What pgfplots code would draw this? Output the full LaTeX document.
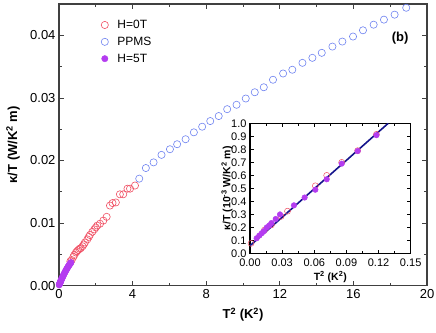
\documentclass[border=0pt]{standalone}
\usepackage{fontspec}
\setmainfont{Liberation Sans}
\usepackage{pgfplots}
\pgfplotsset{compat=1.18}
\definecolor{hzero}{RGB}{240,80,100}
\definecolor{ppms}{RGB}{110,130,240}
\definecolor{hfive}{RGB}{180,60,240}
\definecolor{fitline}{RGB}{20,20,140}
\begin{document}
\begin{tikzpicture}
\begin{axis}[
    name=main,
    scale only axis,
    width=368pt, height=281.7pt,
    xmin=0, xmax=20, ymin=0, ymax=0.045,
    xtick={0,4,8,12,16,20},
    ytick={0,0.01,0.02,0.03,0.04},
    minor x tick num=1, minor y tick num=1,
    scaled y ticks=false,
    tick align=inside,
    major tick length=5pt, minor tick length=3pt,
    axis line style={draw=black!75, line width=1.1pt},
    every tick/.style={black!75, line width=0.8pt},
    ticklabel style={font=\fontsize{13}{15}\selectfont},
    /pgf/number format/assume math mode=true,
    yticklabel style={/pgf/number format/fixed, /pgf/number format/fixed zerofill, /pgf/number format/precision=2},
    xlabel={\bfseries T\textsuperscript{2} (K\textsuperscript{2})},
    ylabel={\bfseries κ/T (W/K\textsuperscript{2} m)},
    label style={font=\fontsize{13}{15}\selectfont\bfseries},
    xlabel style={at={(axis description cs:0.5,-0.103)}, anchor=center},
    ylabel style={at={(axis description cs:-0.125,0.5)}, anchor=center},
    legend style={draw=none, fill=none, at={(axis description cs:0.106,0.958)}, anchor=north west,
      font=\fontsize{12}{14}\selectfont, row sep=3pt,
      /tikz/every odd column/.append style={column sep=7pt}},
    legend cell align=left,
]
% H=0T
\addplot[only marks, mark=o, mark size=3.6pt, hzero, mark options={line width=0.6pt}] coordinates {
 (0.62,0.0039) (0.69,0.0041) (0.78,0.0046) (0.83,0.0049) (0.92,0.0053) (0.98,0.0055)
 (1.05,0.0057) (1.12,0.0059) (1.18,0.0060) (1.28,0.0063) (1.35,0.0066) (1.41,0.0069)
 (1.54,0.0074) (1.62,0.0078) (1.68,0.0081) (1.81,0.0086) (1.92,0.0090) (2.00,0.0093)
 (2.08,0.0096) (2.23,0.0099) (2.41,0.0104) (2.59,0.0110) (2.77,0.0128) (2.91,0.0132)
 (3.09,0.0133) (3.31,0.0146) (3.49,0.0146) (3.72,0.0155) (3.86,0.0155) (4.13,0.0160)
};
% PPMS
\addplot[only marks, mark=o, mark size=3.6pt, ppms, mark options={line width=0.6pt}] coordinates {
 (4.36,0.0171) (4.72,0.0188) (5.14,0.0197) (5.57,0.0209) (6.03,0.0218) (6.42,0.0226)
 (6.88,0.0234) (7.33,0.0245) (7.78,0.0254) (8.22,0.0263) (8.68,0.0271) (9.14,0.0282)
 (9.65,0.0289) (10.15,0.0299) (10.64,0.0309) (11.13,0.0317) (11.63,0.0329) (12.18,0.0339)
 (12.68,0.0345) (13.23,0.0356) (13.77,0.0364) (14.28,0.0372) (14.86,0.0382) (15.40,0.0390)
 (15.98,0.0398) (16.52,0.0408) (17.10,0.0417) (17.66,0.0425) (18.24,0.0433) (18.87,0.0444)
 (19.45,0.0451)
};
% H=5T
\addplot[only marks, mark=*, mark size=3.2pt, hfive, mark options={draw=hfive, fill=hfive}] coordinates {
 (0.01,0.00013) (0.02,0.0002) (0.03,0.00028) (0.04,0.00035) (0.05,0.00043) (0.06,0.0005)
 (0.07,0.00057) (0.08,0.00064) (0.09,0.00071) (0.10,0.00078) (0.12,0.00091) (0.14,0.00104)
 (0.16,0.00117) (0.18,0.0013) (0.20,0.00142) (0.23,0.0016) (0.26,0.00178) (0.29,0.00196)
 (0.32,0.00213) (0.35,0.0023) (0.38,0.00246) (0.41,0.00262) (0.44,0.00277) (0.47,0.00292)
 (0.50,0.00306) (0.53,0.0032) (0.56,0.00333) (0.59,0.00346) (0.62,0.00358) (0.65,0.0037)
};
\legend{H=0T, PPMS, H=5T}
\node[font=\fontsize{13}{15}\selectfont\bfseries] at (axis description cs:0.927,0.879) {(b)};
\end{axis}
\coordinate (insetpos) at ([xshift=191pt, yshift=32.2pt]main.south west);
\begin{axis}[
    at={(insetpos)}, anchor=south west,
    scale only axis,
    width=160.7pt, height=130.2pt,
    axis background/.style={fill=white},
    xmin=0, xmax=0.15, ymin=0, ymax=1.0,
    xtick={0,0.03,0.06,0.09,0.12,0.15},
    ytick={0,0.1,0.2,0.3,0.4,0.5,0.6,0.7,0.8,0.9,1.0},
    minor x tick num=1,
    scaled x ticks=false,
    tick align=inside,
    major tick length=4pt, minor tick length=2.5pt,
    axis line style={line width=1.1pt},
    every tick/.style={black, line width=0.8pt},
    ticklabel style={font=\fontsize{11}{13}\selectfont},
    /pgf/number format/assume math mode=true,
    xticklabel style={yshift=-2pt, /pgf/number format/fixed, /pgf/number format/fixed zerofill, /pgf/number format/precision=2},
    yticklabel style={/pgf/number format/fixed, /pgf/number format/fixed zerofill, /pgf/number format/precision=1},
    xlabel={T\textsuperscript{2} (K\textsuperscript{2})},
    ylabel={κ/T (10\textsuperscript{-3} W/K\textsuperscript{2} m)},
    label style={font=\fontsize{10.5}{12}\selectfont\bfseries},
    xlabel style={at={(axis description cs:0.5,-0.18)}, anchor=center},
    ylabel style={at={(axis description cs:-0.143,0.5)}, anchor=center},
]
\addplot[only marks, mark=o, mark size=3pt, hzero, mark options={line width=0.5pt}] coordinates {
 (0.001,0.078) (0.0135,0.18) (0.02,0.22) (0.029,0.285) (0.035,0.325) (0.061,0.52)
 (0.0716,0.60) (0.0856,0.70) (0.1005,0.79) (0.118,0.915)
};
\addplot[only marks, mark=*, mark size=2.8pt, hfive, mark options={draw=hfive, fill=hfive}] coordinates {
 (0.0062,0.117) (0.0087,0.138) (0.011,0.156) (0.013,0.172) (0.0156,0.20) (0.018,0.215)
 (0.02,0.234) (0.024,0.265) (0.028,0.30) (0.041,0.37) (0.051,0.43) (0.061,0.49)
 (0.0716,0.57) (0.0856,0.69) (0.1005,0.787) (0.118,0.909)
};
\addplot[fitline, line width=1.6pt] coordinates {(0,0.06) (0.129,1.0)};
\end{axis}
\pgfresetboundingbox
\path ([xshift=-59pt,yshift=-46.3pt]main.south west) rectangle ([xshift=9pt,yshift=4pt]main.north east);
\end{tikzpicture}
\end{document}
